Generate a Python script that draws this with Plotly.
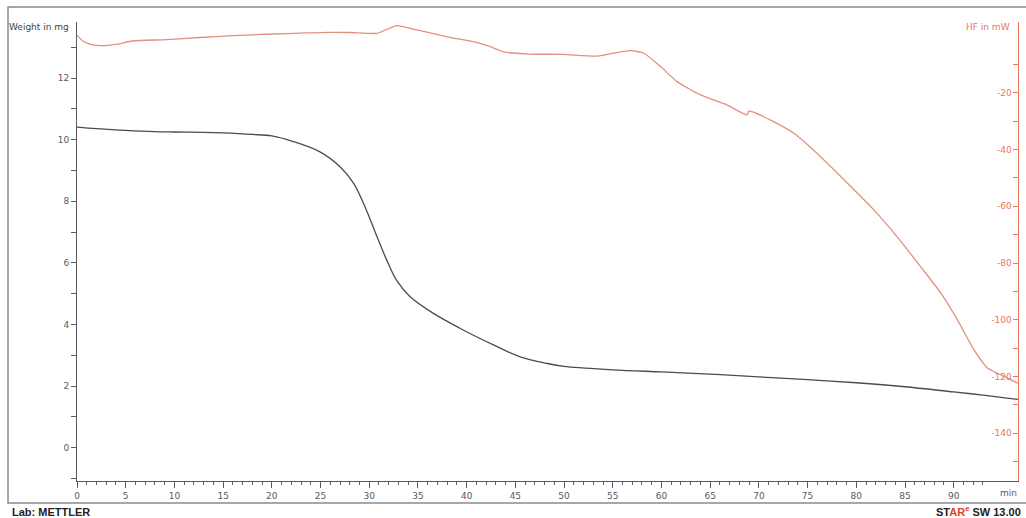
import plotly.graph_objects as go

# Weight (mg) vs time (min)
t_weight = [0, 2, 5, 8, 10, 13, 15, 18, 20, 22.2, 24.9, 27.0, 28.4, 29.7, 30.8, 31.8, 32.8,
            34.2, 36.6, 39.3, 42.8, 45.5, 48.2, 50, 55, 60, 65, 70, 75, 80, 85, 90, 93, 96.6]
weight = [10.41, 10.36, 10.30, 10.26, 10.25, 10.24, 10.22, 10.17, 10.12, 9.94, 9.61, 9.12,
          8.58, 7.72, 6.85, 6.09, 5.44, 4.90, 4.36, 3.88, 3.33, 2.95, 2.74, 2.64, 2.53, 2.46,
          2.39, 2.30, 2.21, 2.11, 1.98, 1.81, 1.71, 1.57]

# Heat flow (mW) vs time (min)
t_hf = [0, 0.6, 1.3, 2.3, 4.1, 5.7, 9.2, 12.6, 16, 20, 23, 26, 28, 30.8, 31.8, 32.8, 33.5,
        34.9, 38, 41, 42.4, 43.8, 46.5, 49.9, 53.4, 55.4, 56.8, 58.2, 59.9, 61.6, 64.0, 66.7,
        68.8, 68.95, 69.3, 71.5, 73.6, 75.6, 79.1, 81.8, 84.2, 86.6, 88.7, 90.4, 92.1, 93.5,
        94.9, 96.6]
hf = [0.3, -1.8, -2.9, -3.45, -2.9, -1.8, -1.3, -0.56, 0.1, 0.67, 1.0, 1.27, 1.2, 0.9, 2.3,
      3.6, 3.3, 2.1, -0.3, -2.3, -3.8, -5.6, -6.4, -6.5, -7.1, -5.9, -5.2, -6.1, -10.8, -16.1,
      -20.8, -24.3, -27.8, -26.5, -26.7, -30.2, -34.3, -40.2, -51.9, -61.3, -70.8, -81.3,
      -90.7, -100.1, -110.7, -117.1, -119.5, -122.4]

x_ticks = list(range(0, 91, 5))
y_ticks = [0, 2, 4, 6, 8, 10, 12]
hf_ticks = [-140, -120, -100, -80, -60, -40, -20]
hf_ticklabels = ["-140", "-120", "-100", "-80", "-60", "-40", "-20"]
hf_minor = [-150, -130, -110, -90, -70, -50, -30, -10]

GRAY = "#5a5a60"
ORANGE = "#e8785a"
FONT = "DejaVu Sans"
PW = 941.0
PH = 459.0

fig = go.Figure()
fig.add_trace(go.Scatter(x=t_weight, y=weight, mode="lines", line=dict(color="#4a4c55", width=1.3),
                         line_shape="spline", showlegend=False, yaxis="y"))
fig.add_trace(go.Scatter(x=t_hf, y=hf, mode="lines", line=dict(color="#e3907e", width=1.3),
                         line_shape="spline", line_smoothing=0.6,
                         showlegend=False, yaxis="y2"))

fig.update_layout(
    width=1026, height=518,
    margin=dict(l=77, r=8, t=22, b=37),
    paper_bgcolor="white", plot_bgcolor="white",
    font=dict(family=FONT, size=9, color=GRAY),
    xaxis=dict(range=[0, 96.6], tickvals=x_ticks, ticks="outside", ticklen=6, tickcolor=GRAY,
               minor=dict(dtick=1, tick0=0, ticks="outside", ticklen=3, tickcolor=GRAY),
               showline=True, linecolor=GRAY, linewidth=1, showgrid=False, zeroline=False,
               tickfont=dict(family=FONT, size=9, color=GRAY)),
    yaxis=dict(range=[-1.08, 13.82], tickvals=y_ticks, ticks="outside", ticklen=5, tickcolor=GRAY,
               minor=dict(dtick=1, tick0=0, ticks="outside", ticklen=5, tickcolor=GRAY),
               showline=True, linecolor=GRAY, linewidth=1, showgrid=False, zeroline=False,
               tickfont=dict(family=FONT, size=9, color=GRAY)),
    yaxis2=dict(range=[-156.8, 4.9], overlaying="y", side="right", tickvals=hf_ticks,
                ticktext=hf_ticklabels,
                ticks="inside", ticklen=5, tickcolor=ORANGE, ticklabelposition="inside",
                minor=dict(tickvals=hf_minor, ticks="inside", ticklen=5, tickcolor=ORANGE),
                showline=True, linecolor=ORANGE, linewidth=1, showgrid=False, zeroline=False,
                tickfont=dict(family=FONT, size=9, color=ORANGE)),
    shapes=[dict(type="rect", xref="paper", yref="paper",
                 x0=-69 / PW, x1=960 / PW, y0=-22 / PH, y1=474 / PH,
                 line=dict(color="#8a8a8a", width=1.5))],
    annotations=[
        dict(text="Weight in mg", xref="paper", yref="paper", x=-6 / PW, y=(PH - 5) / PH,
             xanchor="right", yanchor="middle", showarrow=False,
             font=dict(family=FONT, size=9, color="#444")),
        dict(text="HF in mW", xref="paper", yref="paper", x=(1012 - 77) / PW, y=(PH - 5) / PH,
             xanchor="right", yanchor="middle", showarrow=False,
             font=dict(family=FONT, size=9, color=ORANGE)),
        dict(text="min", xref="paper", yref="paper", x=(1008 - 77) / PW, y=-12 / PH,
             xanchor="center", yanchor="middle", showarrow=False,
             font=dict(family=FONT, size=9, color=GRAY)),
        dict(text="<b>Lab: METTLER</b>", xref="paper", yref="paper", x=-67 / PW, y=-31 / PH,
             xanchor="left", yanchor="middle", showarrow=False,
             font=dict(family="Liberation Sans", size=11, color="#222")),
        dict(text="<b>ST<span style='color:#e0402a'>AR</span><sup><span style='color:#e0402a'>e</span></sup> SW 13.00</b>",
             xref="paper", yref="paper", x=(1023 - 77) / PW, y=-30 / PH,
             xanchor="right", yanchor="middle", showarrow=False,
             font=dict(family="Liberation Sans", size=11, color="#222")),
    ],
)

fig.write_html("out.html", config={"displayModeBar": False},
               post_script="document.body.style.margin='0';")
